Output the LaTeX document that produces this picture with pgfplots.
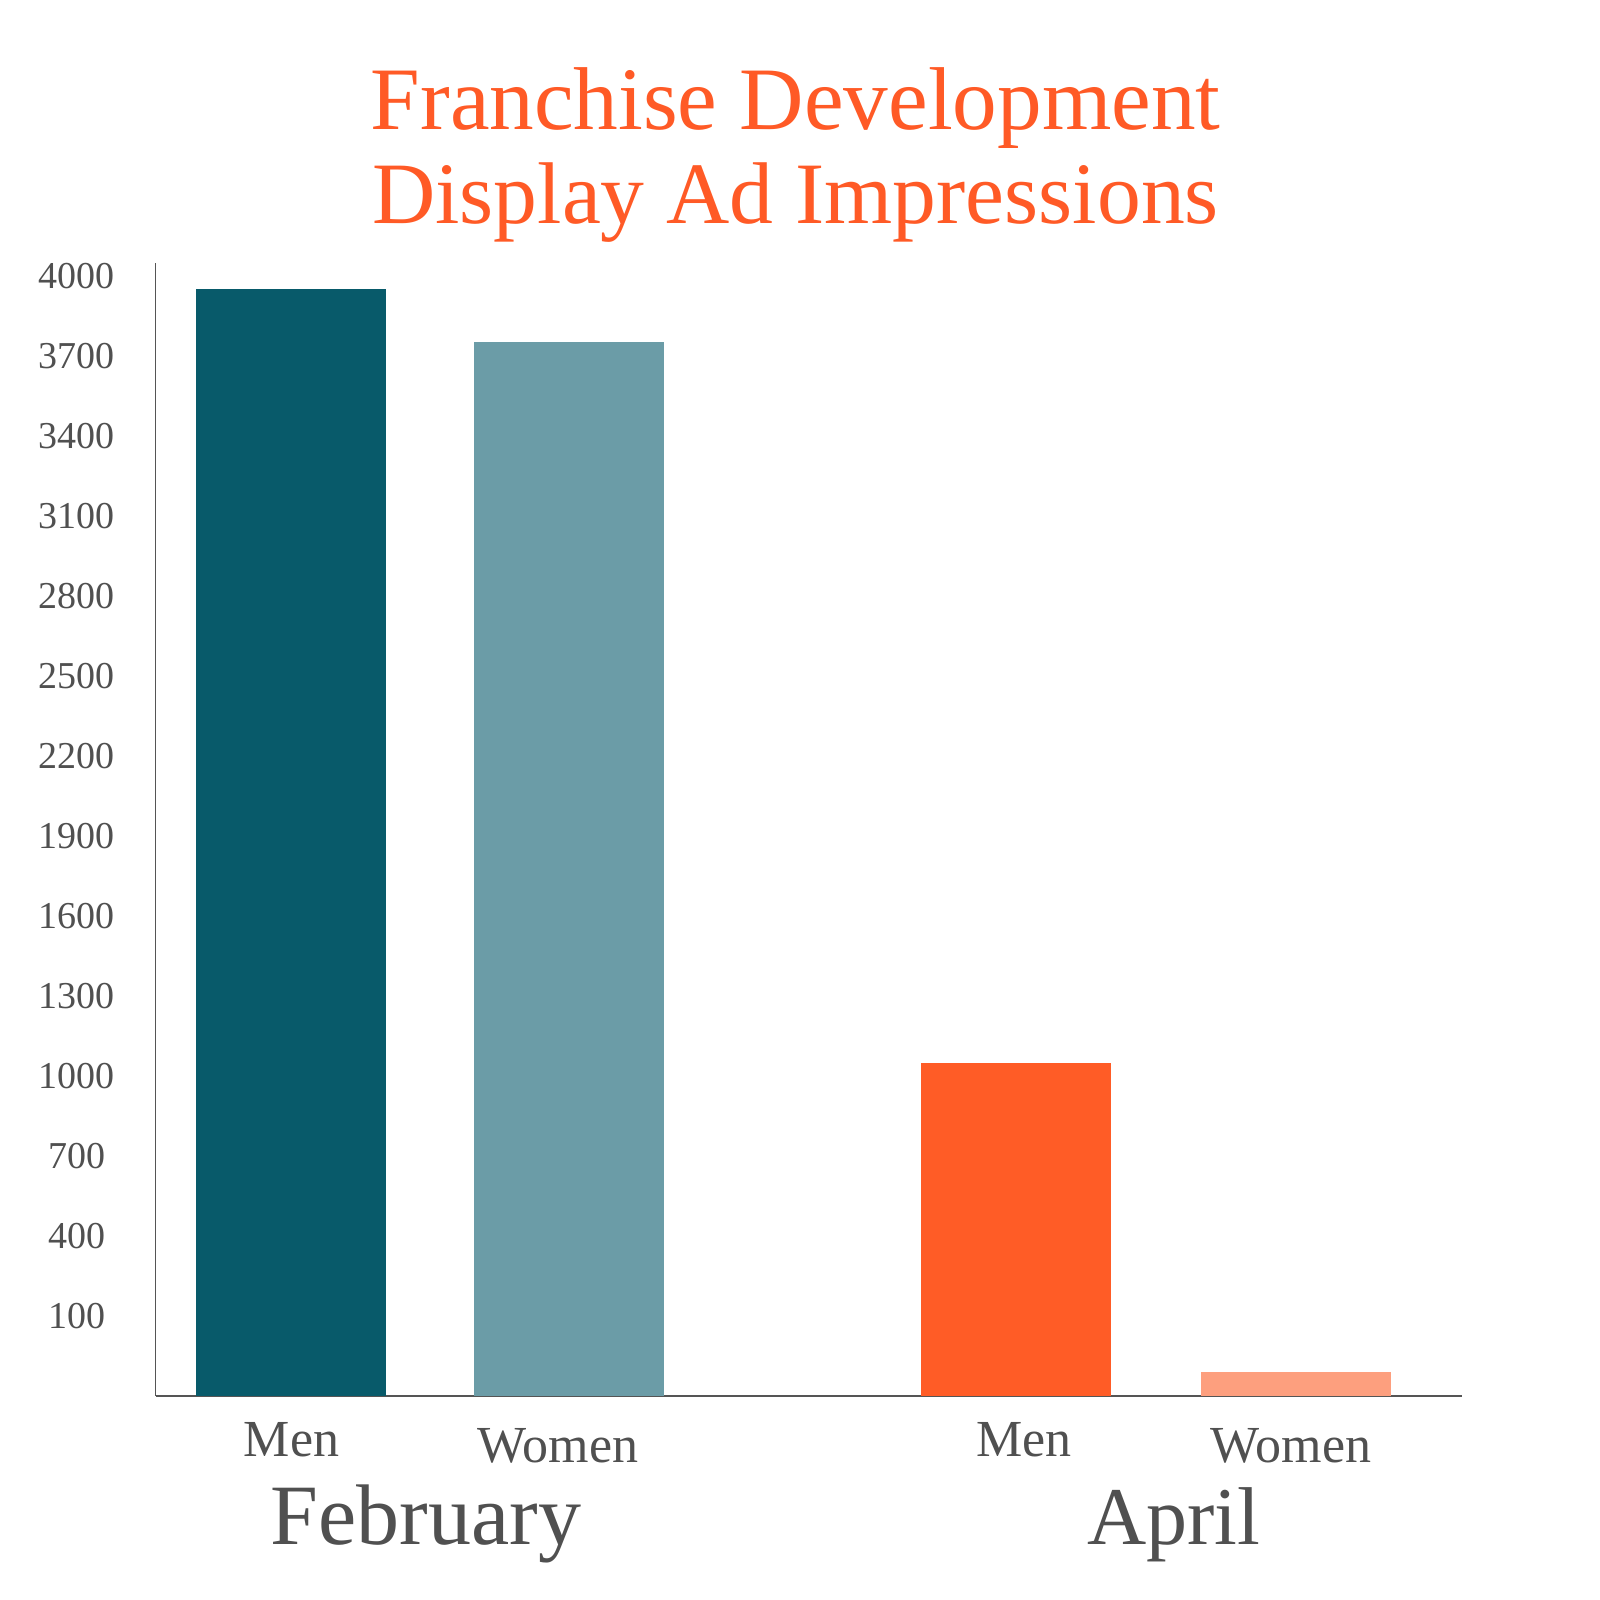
\documentclass[border=0pt]{standalone}
\usepackage{pgfplots}
\pgfplotsset{compat=1.18}
\usepackage{fontspec}
\setmainfont{Liberation Serif}
\definecolor{febmen}{HTML}{085A6A}
\definecolor{febwomen}{HTML}{6B9CA7}
\definecolor{aprmen}{HTML}{FF5C26}
\definecolor{aprwomen}{HTML}{FD9F7E}
\definecolor{titlec}{HTML}{FF5A26}
\definecolor{txt}{HTML}{505050}
\definecolor{axc}{HTML}{555555}
\begin{document}
\begin{tikzpicture}
\useasboundingbox (0,0) rectangle (400pt,400pt);
\begin{axis}[
  at={(38.9pt,51pt)}, anchor=south west,
  scale only axis, width=326.5pt, height=283.2pt,
  xmin=0, xmax=1306, ymin=0, ymax=4247,
  axis x line*=bottom, axis y line*=left,
  axis line style={axc, line width=0.45pt, -},
  major tick length=0pt,
  xtick={136,402.3,868.3,1135.3},
  xticklabels={Men,\raisebox{-1.25pt}{Women},Men,\raisebox{-1.25pt}{Women}},
  xticklabel style={anchor=base, yshift=-15.25pt, font=\fontsize{13}{15}\selectfont, text=txt},
  ytick={300,600,...,4200},
  yticklabels={100,400,700,1000,1300,1600,1900,2200,2500,2800,3100,3400,3700,4000},
  yticklabel style={anchor=center, xshift=-19.75pt, font=\fontsize{9.5}{11}\selectfont, text=txt},
  /pgf/number format/assume math mode=true,
  clip=false,
  ybar, bar width=190,
]
\addplot[fill=febmen, draw=none, bar shift=0pt] coordinates {(135.7,4150)};
\addplot[fill=febwomen, draw=none, bar shift=0pt] coordinates {(413.7,3950)};
\addplot[fill=aprmen, draw=none, bar shift=0pt] coordinates {(860.6,1250)};
\addplot[fill=aprwomen, draw=none, bar shift=0pt] coordinates {(1140.8,90)};
\node[anchor=base, text=txt, font=\fontsize{21.5}{24}\selectfont] at ([yshift=-37.25pt]axis cs:270.3,0) {February};
\node[anchor=base, text=txt, font=\fontsize{20.5}{24}\selectfont] at ([yshift=-37.25pt]axis cs:1018.3,0) {April};
\end{axis}
\node[anchor=base, text=titlec, font=\fontsize{22.3}{24}\selectfont] at (198.9pt,367.5pt) {Franchise Development};
\node[anchor=base, text=titlec, font=\fontsize{21.9}{24}\selectfont] at (198.9pt,344.2pt) {Display Ad Impressions};
\end{tikzpicture}
\end{document}
